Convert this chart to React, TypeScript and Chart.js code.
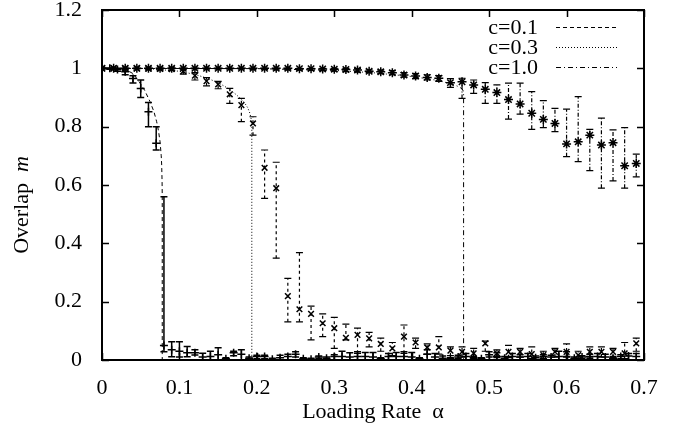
import React, { useEffect, useRef } from 'react';
import { Chart, registerables } from 'chart.js';

Chart.register(...registerables);

const SERIES = ['c=0.1', 'c=0.3', 'c=1.0'];
const X_TICKS = ['0', '0.1', '0.2', '0.3', '0.4', '0.5', '0.6', '0.7'];
const Y_TICKS = ['0', '0.2', '0.4', '0.6', '0.8', '1', '1.2'];
const X_TITLE = 'Loading Rate  \u03b1';
const Y_TITLE = 'Overlap  ';
const Y_TITLE_VAR = 'm';

// theory curves
const T01_X = [0, 0.02, 0.03, 0.04, 0.047, 0.055, 0.062, 0.067, 0.0706, 0.073, 0.075, 0.0765, 0.0771, 0.0776, 0.0778, 0.0778, 0.7];
const T01_Y = [1, 0.999, 0.997, 0.982, 0.958, 0.925, 0.886, 0.852, 0.817, 0.785, 0.748, 0.7, 0.668, 0.61, 0.566, 0, 0];
const T03_X = [0, 0.06, 0.1, 0.12, 0.135, 0.15, 0.165, 0.175, 0.183, 0.188, 0.191, 0.193, 0.1935, 0.1935, 0.7];
const T03_Y = [1, 0.999, 0.99, 0.979, 0.967, 0.951, 0.928, 0.906, 0.886, 0.866, 0.846, 0.822, 0.8, 0, 0];
const T10_X = [0, 0.2, 0.3, 0.35, 0.4, 0.43, 0.45, 0.46, 0.465, 0.467, 0.467, 0.7];
const T10_Y = [1, 0.999, 0.993, 0.985, 0.972, 0.96, 0.948, 0.938, 0.93, 0.92, 0, 0];

// c=0.1 simulation
const A01 = [0, 0.01, 0.02, 0.03, 0.04, 0.05, 0.06, 0.07, 0.08, 0.09, 0.1, 0.11, 0.12, 0.13, 0.14, 0.15, 0.16, 0.17, 0.18, 0.19, 0.2, 0.21, 0.22, 0.23, 0.24, 0.25, 0.26, 0.27, 0.28, 0.29, 0.3, 0.31, 0.32, 0.33, 0.34, 0.35, 0.36, 0.37, 0.38, 0.39, 0.4, 0.41, 0.42, 0.43, 0.44, 0.45, 0.46, 0.47, 0.48, 0.49, 0.5, 0.51, 0.52, 0.53, 0.54, 0.55, 0.56, 0.57, 0.58, 0.59, 0.6, 0.61, 0.62, 0.63, 0.64, 0.65, 0.66, 0.67, 0.68, 0.69];
const M01 = [1, 1, 0.996, 0.988, 0.965, 0.931, 0.851, 0.743, 0.05, 0.035, 0.03, 0.025, 0.025, 0.01, 0.012, 0.018, 0.004, 0.025, 0.02, 0.006, 0.012, 0.012, 0.003, 0.008, 0.012, 0.02, 0.004, 0.003, 0.01, 0.006, 0.012, 0.012, 0.01, 0.012, 0.012, 0.01, 0.004, 0.012, 0.012, 0.012, 0.01, 0.004, 0.02, 0.01, 0.006, 0.004, 0.01, 0.012, 0.008, 0.004, 0.018, 0.012, 0.006, 0.012, 0.01, 0.012, 0.008, 0.012, 0.01, 0.012, 0.012, 0.006, 0.01, 0.012, 0.012, 0.01, 0.006, 0.012, 0.014, 0.012];
const LO01 = [0.998, 0.997, 0.99, 0.978, 0.95, 0.9, 0.8, 0.72, 0.028, 0.011, 0.01, 0.011, 0.017, 0, 0, 0, 0, 0.015, 0, 0, 0.004, 0.004, 0, 0, 0, 0.01, 0, 0, 0.005, 0.002, 0, 0, 0, 0, 0, 0, 0, 0, 0, 0, 0, 0, 0, 0, 0, 0, 0.005, 0, 0, 0, 0.01, 0, 0, 0, 0, 0, 0, 0.004, 0, 0, 0, 0, 0.004, 0.004, 0, 0, 0, 0.004, 0, 0];
const HI01 = [1, 1, 1, 0.996, 0.975, 0.96, 0.883, 0.8, 0.56, 0.063, 0.063, 0.046, 0.035, 0.023, 0.03, 0.042, 0.008, 0.03, 0.035, 0.01, 0.016, 0.016, 0.006, 0.016, 0.02, 0.028, 0.008, 0.006, 0.014, 0.01, 0.018, 0.03, 0.025, 0.028, 0.026, 0.026, 0.008, 0.022, 0.026, 0.028, 0.026, 0.008, 0.035, 0.022, 0.014, 0.008, 0.016, 0.022, 0.012, 0.008, 0.028, 0.025, 0.012, 0.022, 0.018, 0.022, 0.014, 0.018, 0.016, 0.03, 0.028, 0.01, 0.015, 0.02, 0.022, 0.02, 0.012, 0.018, 0.022, 0.022];

// c=0.3 simulation
const A03 = [0, 0.015, 0.03, 0.045, 0.06, 0.075, 0.09, 0.105, 0.12, 0.135, 0.15, 0.165, 0.18, 0.195, 0.21, 0.225, 0.24, 0.255, 0.27, 0.285, 0.3, 0.315, 0.33, 0.345, 0.36, 0.375, 0.39, 0.405, 0.42, 0.435, 0.45, 0.465, 0.48, 0.495, 0.51, 0.525, 0.54, 0.555, 0.57, 0.585, 0.6, 0.615, 0.63, 0.645, 0.66, 0.675, 0.69];
const M03 = [1, 1, 1, 1, 0.999, 0.998, 0.997, 0.99, 0.975, 0.956, 0.945, 0.911, 0.874, 0.811, 0.659, 0.589, 0.219, 0.174, 0.158, 0.126, 0.109, 0.076, 0.086, 0.074, 0.055, 0.04, 0.08, 0.06, 0.043, 0.043, 0.032, 0.028, 0.023, 0.057, 0.023, 0.028, 0.028, 0.02, 0.017, 0.028, 0.028, 0.017, 0.028, 0.028, 0.028, 0.023, 0.057];
const LO03 = [0.999, 0.999, 0.999, 0.998, 0.997, 0.995, 0.993, 0.98, 0.96, 0.94, 0.93, 0.88, 0.817, 0.771, 0.554, 0.349, 0.131, 0.131, 0.069, 0.08, 0.04, 0.069, 0.023, 0.045, 0.03, 0.015, 0.023, 0.04, 0.02, 0.02, 0.015, 0.01, 0.005, 0.03, 0.008, 0.008, 0.01, 0.005, 0.005, 0.01, 0.01, 0.005, 0.01, 0.01, 0.008, 0.005, 0.03];
const HI03 = [1, 1, 1, 1, 1, 1, 1, 0.997, 0.985, 0.968, 0.955, 0.931, 0.897, 0.834, 0.72, 0.678, 0.28, 0.368, 0.185, 0.158, 0.146, 0.123, 0.109, 0.095, 0.075, 0.06, 0.12, 0.075, 0.055, 0.08, 0.045, 0.045, 0.04, 0.065, 0.035, 0.05, 0.04, 0.045, 0.03, 0.04, 0.055, 0.03, 0.045, 0.045, 0.04, 0.06, 0.075];

// c=1.0 simulation
const A10 = [0, 0.015, 0.03, 0.045, 0.06, 0.075, 0.09, 0.105, 0.12, 0.135, 0.15, 0.165, 0.18, 0.195, 0.21, 0.225, 0.24, 0.255, 0.27, 0.285, 0.3, 0.315, 0.33, 0.345, 0.36, 0.375, 0.39, 0.405, 0.42, 0.435, 0.45, 0.465, 0.48, 0.495, 0.51, 0.525, 0.54, 0.555, 0.57, 0.585, 0.6, 0.615, 0.63, 0.645, 0.66, 0.675, 0.69];
const M10 = [1, 1, 1, 1, 1, 1, 1, 1, 1, 1, 1, 1, 1, 1, 1, 1, 1, 0.999, 0.999, 0.998, 0.997, 0.996, 0.994, 0.99, 0.988, 0.985, 0.977, 0.974, 0.969, 0.966, 0.951, 0.954, 0.943, 0.928, 0.917, 0.893, 0.878, 0.846, 0.825, 0.811, 0.741, 0.748, 0.771, 0.737, 0.745, 0.666, 0.674];
const LO10 = [0.999, 0.999, 0.999, 0.999, 0.998, 0.998, 0.998, 0.998, 0.998, 0.997, 0.997, 0.997, 0.997, 0.996, 0.996, 0.995, 0.995, 0.994, 0.993, 0.992, 0.99, 0.989, 0.987, 0.985, 0.982, 0.978, 0.97, 0.965, 0.96, 0.955, 0.935, 0.897, 0.914, 0.88, 0.88, 0.826, 0.843, 0.791, 0.797, 0.783, 0.697, 0.68, 0.649, 0.589, 0.614, 0.589, 0.628];
const HI10 = [1, 1, 1, 1, 1, 1, 1, 1, 1, 1, 1, 1, 1, 1, 1, 1, 1, 1, 1, 1, 1, 1, 0.999, 0.995, 0.994, 0.992, 0.985, 0.982, 0.978, 0.975, 0.965, 0.966, 0.96, 0.951, 0.943, 0.949, 0.949, 0.92, 0.889, 0.863, 0.86, 0.903, 0.791, 0.829, 0.789, 0.797, 0.706];

const FONT = '"Liberation Serif", "Times New Roman", serif';
const DASHES: number[][] = [[4, 3], [1, 2], [5, 3, 1, 3]];
const ERR_DASHES: number[][] = [[], [3, 3], [4, 2, 1, 2]];

const pts = (xs: number[], ys: number[]) => xs.map((x, i) => ({ x, y: ys[i] }));

const decor = {
  id: 'decor',
  afterDatasetsDraw(chart: any) {
    const { ctx, chartArea: ca, scales } = chart;
    const xs = scales.x;
    const ys = scales.y;
    ctx.save();
    ctx.beginPath();
    ctx.rect(ca.left, ca.top, ca.right - ca.left, ca.bottom - ca.top);
    ctx.clip();
    ctx.strokeStyle = '#000';
    chart.data.datasets.forEach((ds: any) => {
      if (!ds.errLo) return;
      ctx.lineWidth = ds.errWidth;
      ds.data.forEach((p: any, i: number) => {
        const px = xs.getPixelForValue(p.x);
        const yl = ys.getPixelForValue(ds.errLo[i]);
        const yh = ys.getPixelForValue(ds.errHi[i]);
        ctx.setLineDash(ds.errDash);
        ctx.beginPath();
        ctx.moveTo(px, yl);
        ctx.lineTo(px, yh);
        ctx.stroke();
        ctx.setLineDash([]);
        ctx.beginPath();
        ctx.moveTo(px - 3.5, yl);
        ctx.lineTo(px + 3.5, yl);
        ctx.moveTo(px - 3.5, yh);
        ctx.lineTo(px + 3.5, yh);
        ctx.stroke();
      });
    });
    ctx.restore();

    ctx.save();
    ctx.strokeStyle = '#000';
    ctx.setLineDash([]);
    ctx.lineWidth = 1.5;
    const tl = 7;
    X_TICKS.forEach((_, i) => {
      const px = Math.round(xs.getPixelForValue(i * 0.1)) + 0.5;
      ctx.beginPath();
      ctx.moveTo(px, ca.bottom);
      ctx.lineTo(px, ca.bottom - tl);
      ctx.moveTo(px, ca.top);
      ctx.lineTo(px, ca.top + tl);
      ctx.stroke();
    });
    Y_TICKS.forEach((_, i) => {
      const py = Math.round(ys.getPixelForValue(i * 0.2)) + 0.5;
      ctx.beginPath();
      ctx.moveTo(ca.left, py);
      ctx.lineTo(ca.left + tl, py);
      ctx.moveTo(ca.right, py);
      ctx.lineTo(ca.right - tl, py);
      ctx.stroke();
    });
    ctx.lineWidth = 2;
    ctx.strokeRect(ca.left, ca.top, ca.right - ca.left, ca.bottom - ca.top);

    // legend
    ctx.fillStyle = '#000';
    ctx.font = '22px ' + FONT;
    ctx.textAlign = 'right';
    ctx.textBaseline = 'middle';
    SERIES.forEach((s, i) => {
      const yy = 27 + 20 * i;
      ctx.fillText(s, 538, yy + 1);
      ctx.lineWidth = 1;
      ctx.setLineDash(DASHES[i]);
      ctx.beginPath();
      ctx.moveTo(556, yy + 0.5);
      ctx.lineTo(617, yy + 0.5);
      ctx.stroke();
    });
    ctx.setLineDash([]);

    // axis titles
    ctx.font = '22px ' + FONT;
    ctx.textAlign = 'center';
    ctx.textBaseline = 'middle';
    ctx.fillText(X_TITLE, (ca.left + ca.right) / 2, 412);

    ctx.save();
    ctx.translate(22, 205);
    ctx.rotate(-Math.PI / 2);
    ctx.font = '22px ' + FONT;
    const w1 = ctx.measureText(Y_TITLE).width;
    ctx.font = 'italic 22px ' + FONT;
    const w2 = ctx.measureText(Y_TITLE_VAR).width;
    const start = -(w1 + w2) / 2;
    ctx.textAlign = 'left';
    ctx.font = '22px ' + FONT;
    ctx.fillText(Y_TITLE, start, 0);
    ctx.font = 'italic 22px ' + FONT;
    ctx.fillText(Y_TITLE_VAR, start + w1, 0);
    ctx.restore();
    ctx.restore();
  },
};

export default function App() {
  const ref = useRef<HTMLCanvasElement>(null);
  useEffect(() => {
    if (!ref.current) return;
    const theory = (xs: number[], ys: number[], i: number) => ({
      type: 'line' as const,
      data: pts(xs, ys),
      showLine: true,
      borderColor: '#000',
      borderWidth: 1,
      borderDash: DASHES[i],
      pointRadius: 0,
      fill: false,
      tension: 0,
    });
    const sim = (xs: number[], ms: number[], lo: number[], hi: number[], i: number, style: string) => ({
      type: 'scatter' as const,
      data: pts(xs, ms),
      showLine: false,
      pointStyle: style,
      pointRadius: i === 2 ? 4.5 : 4,
      pointBorderWidth: 1.5,
      pointBorderColor: '#000',
      pointBackgroundColor: '#000',
      borderColor: '#000',
      errLo: lo,
      errHi: hi,
      errDash: ERR_DASHES[i],
      errWidth: i === 0 ? 1.5 : 1.2,
    });
    const chart = new Chart(ref.current, {
      type: 'scatter',
      data: {
        datasets: [
          theory(T01_X, T01_Y, 0),
          theory(T03_X, T03_Y, 1),
          theory(T10_X, T10_Y, 2),
          sim(A01, M01, LO01, HI01, 0, 'cross') as any,
          sim(A03, M03, LO03, HI03, 1, 'crossRot') as any,
          sim(A10, M10, LO10, HI10, 2, 'star') as any,
        ],
      },
      options: {
        animation: false,
        responsive: false,
        layout: { padding: { top: 10, right: 37, left: 0, bottom: 0 } },
        plugins: { legend: { display: false }, tooltip: { enabled: false } },
        scales: {
          x: {
            type: 'linear',
            min: 0,
            max: 0.7,
            grid: { display: false },
            border: { display: false },
            ticks: {
              stepSize: 0.1,
              autoSkip: false,
              maxRotation: 0,
              padding: 7,
              color: '#000',
              font: { family: FONT, size: 22 },
              callback: (v: any) => X_TICKS[Math.round(Number(v) * 10)] ?? '',
            },
            afterFit: (s: any) => {
              s.height = 68;
              s.paddingLeft = 0;
              s.paddingRight = 0;
            },
          },
          y: {
            type: 'linear',
            min: 0,
            max: 1.2,
            grid: { display: false },
            border: { display: false },
            ticks: {
              stepSize: 0.2,
              autoSkip: false,
              padding: 12,
              color: '#000',
              font: { family: FONT, size: 22 },
              callback: (v: any) => Y_TICKS[Math.round(Number(v) * 5)] ?? '',
            },
            afterFit: (s: any) => {
              s.width = 102;
              s.paddingTop = 0;
              s.paddingBottom = 0;
            },
          },
        },
      },
      plugins: [decor],
    });
    return () => chart.destroy();
  }, []);
  return (
    <div style={{ position: 'fixed', left: 0, top: 0, width: 681, height: 428, background: '#fff' }}>
      <canvas ref={ref} width={681} height={428} />
    </div>
  );
}
